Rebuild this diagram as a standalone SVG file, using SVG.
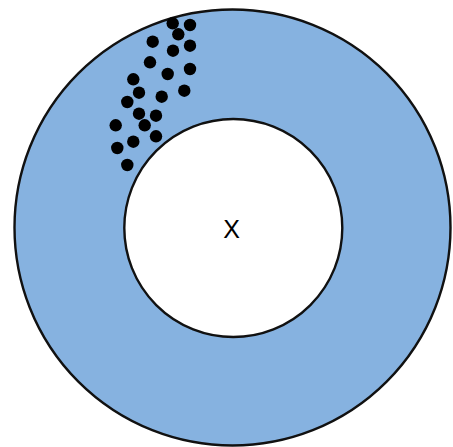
<svg xmlns="http://www.w3.org/2000/svg" width="453" height="447" viewBox="0 0 453 447">
<style>
.ring{fill:#86b2e0;stroke:#111;stroke-width:2.4}
.hole{fill:#fff;stroke:#111;stroke-width:2.4}
.dot{fill:#000}
.lbl{font-family:"Liberation Sans",Arial,sans-serif;font-size:25px;fill:#000;text-anchor:middle}
</style>
<rect width="453" height="447" fill="#fff"/>
<g id="outer"><circle class="ring" cx="232.5" cy="227.5" r="218"/></g>
<g id="dots">
<circle class="dot" cx="172.7" cy="23.3" r="6.2"/>
<circle class="dot" cx="190" cy="25" r="6.2"/>
<circle class="dot" cx="178.3" cy="34.3" r="6.2"/>
<circle class="dot" cx="152.7" cy="41.7" r="6.2"/>
<circle class="dot" cx="190" cy="45.7" r="6.2"/>
<circle class="dot" cx="173" cy="50.7" r="6.2"/>
<circle class="dot" cx="150" cy="62.3" r="6.2"/>
<circle class="dot" cx="190" cy="69" r="6.2"/>
<circle class="dot" cx="167.7" cy="74" r="6.2"/>
<circle class="dot" cx="133.3" cy="79.3" r="6.2"/>
<circle class="dot" cx="184.3" cy="90.7" r="6.2"/>
<circle class="dot" cx="139" cy="92.7" r="6.2"/>
<circle class="dot" cx="161.7" cy="96.7" r="6.2"/>
<circle class="dot" cx="127.3" cy="102" r="6.2"/>
<circle class="dot" cx="139" cy="113.7" r="6.2"/>
<circle class="dot" cx="156" cy="115.7" r="6.2"/>
<circle class="dot" cx="115.7" cy="125.3" r="6.2"/>
<circle class="dot" cx="144.7" cy="125.3" r="6.2"/>
<circle class="dot" cx="156" cy="136.3" r="6.2"/>
<circle class="dot" cx="133.3" cy="141.7" r="6.2"/>
<circle class="dot" cx="117.3" cy="148" r="6.2"/>
<circle class="dot" cx="127.3" cy="165" r="6.2"/>
</g>
<g id="inner"><circle class="hole" cx="233.3" cy="228" r="109"/>
<text class="lbl" x="231.5" y="238">X</text></g>
</svg>
